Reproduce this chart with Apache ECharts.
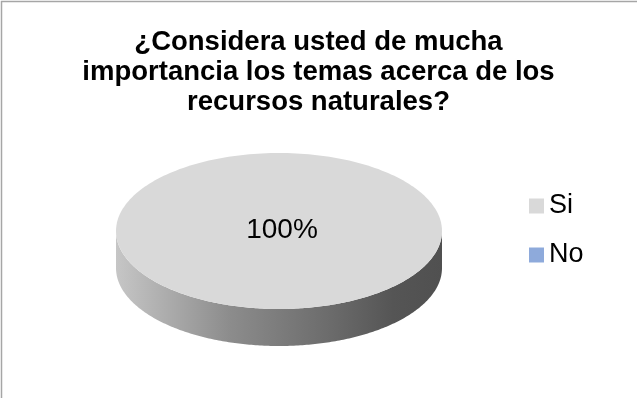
<!DOCTYPE html>
<html>
<head>
<meta charset="utf-8">
<script src="https://cdn.jsdelivr.net/npm/echarts@6/dist/echarts.min.js"></script>
<style>
html,body{margin:0;padding:0;background:#fff;}
#main{width:637px;height:398px;}
</style>
</head>
<body>
<div id="main"></div>
<script>
const titleText = '¿Considera usted de mucha\nimportancia los temas acerca de los\nrecursos naturales?';
const categories = ['Si', 'No'];
const values = [100, 0];

const sliceColors = ['#d9d9d9', '#8eaadb'];
const FONT = '"Liberation Sans", Arial, sans-serif';

const total = values.reduce((a, b) => a + b, 0);
const CX = 279, CY = 231, RX = 163, RY = 78, DEPTH = 37;
const START = -Math.PI / 2;

function ellPt(a, dy) {
  return [CX + RX * Math.cos(a), CY + (dy || 0) + RY * Math.sin(a)];
}

function makeRender(i) {
  return function (params, api) {
    const v = api.value(0);
    if (!(v > 0) || total <= 0) return { type: 'group', children: [] };
    let before = 0;
    for (let k = 0; k < i; k++) before += values[k];
    const a0 = START + (before / total) * Math.PI * 2;
    const a1 = START + ((before + v) / total) * Math.PI * 2;
    const children = [];
    const N = 240;
    // side (front half, angles 0..PI)
    const s = Math.max(a0, 0), e = Math.min(a1, Math.PI);
    if (e > s) {
      const pts = [];
      for (let k = 0; k <= N; k++) pts.push(ellPt(s + (e - s) * k / N, 0));
      for (let k = N; k >= 0; k--) pts.push(ellPt(s + (e - s) * k / N, DEPTH));
      children.push({
        type: 'polygon',
        shape: { points: pts },
        style: {
          fill: i === 0 ? {
            type: 'linear', x: 0, y: 0, x2: 1, y2: 0,
            colorStops: [
              { offset: 0, color: '#c6c6c6' },
              { offset: 0.35, color: '#8c8c8c' },
              { offset: 0.66, color: '#6b6b6b' },
              { offset: 0.85, color: '#555555' },
              { offset: 1, color: '#505050' }
            ]
          } : '#6d86b3'
        }
      });
    }
    // top face
    const top = [];
    const full = (a1 - a0) >= Math.PI * 2 - 1e-9;
    if (!full) top.push([CX, CY]);
    for (let k = 0; k <= N; k++) top.push(ellPt(a0 + (a1 - a0) * k / N, 0));
    children.push({
      type: 'polygon',
      shape: { points: top },
      style: { fill: sliceColors[i] }
    });
    // label
    const mid = (a0 + a1) / 2;
    const lp = full ? [CX + 3, CY - 1] : [CX + RX * 0.6 * Math.cos(mid), CY + RY * 0.6 * Math.sin(mid)];
    children.push({
      type: 'text',
      style: {
        text: Math.round(v / total * 100) + '%',
        x: lp[0], y: lp[1],
        align: 'center', verticalAlign: 'middle',
        fontSize: 28, fontFamily: FONT, fill: '#000'
      }
    });
    return { type: 'group', children };
  };
}

const chart = echarts.init(document.getElementById('main'), null, { renderer: 'canvas' });
chart.setOption({
  animation: false,
  backgroundColor: '#ffffff',
  title: {
    text: titleText,
    left: 'center',
    top: 22,
    textStyle: { fontSize: 27.5, fontWeight: 'bold', fontFamily: FONT, color: '#000', lineHeight: 30 }
  },
  legend: {
    orient: 'vertical',
    left: 524,
    top: 186,
    itemWidth: 15,
    itemHeight: 15,
    itemGap: 19,
    icon: 'rect',
    data: categories,
    textStyle: { fontSize: 27, fontFamily: FONT, color: '#000', lineHeight: 30 }
  },
  graphic: [{
    type: 'rect',
    shape: { x: 1.5, y: 1.5, width: 700, height: 500 },
    style: { fill: 'none', stroke: '#a6a6a6', lineWidth: 1.5 },
    silent: true
  }],
  series: categories.map((name, i) => ({
    type: 'custom',
    name: name,
    coordinateSystem: 'none',
    itemStyle: { color: sliceColors[i] },
    data: [[values[i], i]],
    renderItem: makeRender(i)
  }))
});
</script>
</body>
</html>
